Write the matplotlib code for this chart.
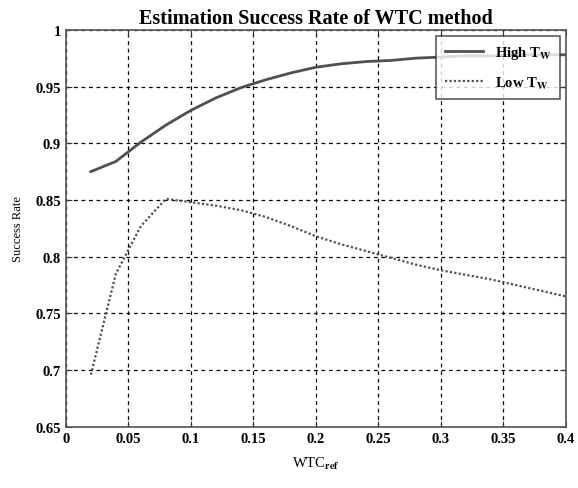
import matplotlib
matplotlib.use("Agg")
import matplotlib.pyplot as plt

# valores
wtc_ref = [0.02, 0.04, 0.06, 0.08, 0.10, 0.12, 0.14, 0.16, 0.18, 0.20,
           0.22, 0.24, 0.26, 0.28, 0.30, 0.32, 0.34, 0.36, 0.38, 0.40]
high_tw = [0.875, 0.884, 0.901, 0.916, 0.929, 0.940, 0.949, 0.956, 0.962, 0.967,
           0.970, 0.972, 0.973, 0.975, 0.976, 0.977, 0.977, 0.978, 0.978, 0.978]
low_tw = [0.696, 0.785, 0.827, 0.851, 0.848, 0.845, 0.841, 0.835, 0.827, 0.818,
          0.811, 0.805, 0.799, 0.793, 0.788, 0.784, 0.780, 0.775, 0.770, 0.765]

x_ticks = [0, 0.05, 0.1, 0.15, 0.2, 0.25, 0.3, 0.35, 0.4]
x_labels = ["0", "0.05", "0.1", "0.15", "0.2", "0.25", "0.3", "0.35", "0.4"]
y_ticks = [0.65, 0.7, 0.75, 0.8, 0.85, 0.9, 0.95, 1]
y_labels = ["0.65", "0.7", "0.75", "0.8", "0.85", "0.9", "0.95", "1"]

plt.rcParams["font.family"] = ["Liberation Serif", "DejaVu Serif"]
plt.rcParams["font.weight"] = "bold"
plt.rcParams["mathtext.fontset"] = "stix"

fig = plt.figure(figsize=(5.78, 4.89), dpi=100)
ax = fig.add_axes([0.114, 0.125, 0.865, 0.812])

ax.plot(wtc_ref, high_tw, color="#505050", lw=2.0, ls="-", label=r"High T$_{\mathbf{W}}$")
ax.plot(wtc_ref, low_tw, color="#505050", lw=1.6, ls=(0, (1, 1)), label=r"Low T$_{\mathbf{W}}$")

ax.set_xlim(0, 0.4)
ax.set_ylim(0.65, 1)
ax.set_xticks(x_ticks)
ax.set_xticklabels(x_labels)
ax.set_yticks(y_ticks)
ax.set_yticklabels(y_labels)
ax.tick_params(direction="in", top=True, right=True, labelsize=10.5, length=4, color="#333333")

ax.grid(True, color="black", ls=(0, (3, 3)), lw=0.9)
for s in ax.spines.values():
    s.set_color("#555555")
    s.set_linewidth(1.2)

ax.set_title("Estimation Success Rate of WTC method", fontsize=14.5, fontweight="bold", pad=5)
ax.set_xlabel(r"WTC$_{\mathbf{ref}}$", fontsize=10.5, labelpad=7)
ax.set_ylabel("Success Rate", fontsize=9, labelpad=8)

leg = ax.legend(loc="upper right", fontsize=10.5, frameon=True, fancybox=False,
                edgecolor="#333333", borderaxespad=0.4, handlelength=2.6,
                labelspacing=0.9, borderpad=0.6)
leg.get_frame().set_linewidth(1.2)

fig.savefig("out.png", dpi=100)
